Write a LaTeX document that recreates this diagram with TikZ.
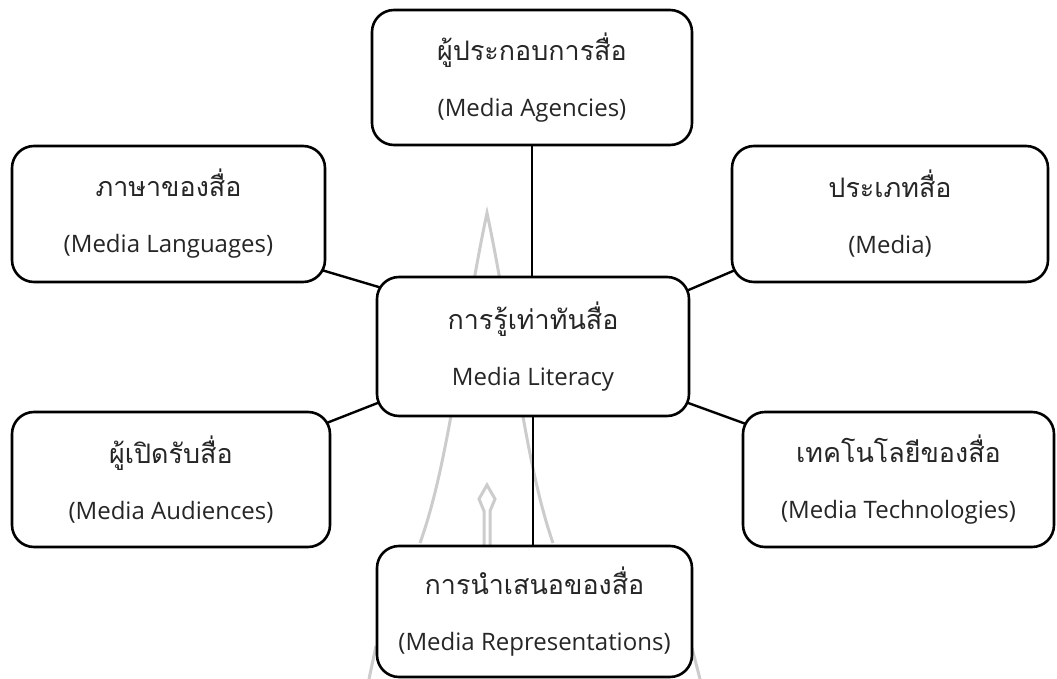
\documentclass[tikz,border=0pt]{standalone}
\usepackage{fontspec}
\setmainfont{Open Sans}
\newfontfamily\thaifont[Script=Thai,Scale=1.12]{Loma}
\usetikzlibrary{backgrounds}
\pgfdeclarelayer{bottom}
\pgfsetlayers{bottom,background,main}
\begin{document}
\begin{tikzpicture}[x=1pt,y=-1pt,
  box/.style={draw, line width=2.6pt, rounded corners=22pt, fill=white, align=center,
    inner sep=0pt, font=\fontsize{24}{56}\selectfont, text=black!85},
  link/.style={line width=2.4pt, shorten <=-6pt, shorten >=-6pt},
  wm/.style={draw=black!20, line width=3pt}]
\begin{pgfonlayer}{bottom}
  \fill[white] (0,0) rectangle (1057,679);
\end{pgfonlayer}
\useasboundingbox (0,0) rectangle (1057,679);

\node[box, minimum width=320pt, minimum height=135pt] (top) at (532,77.5)
  {{\thaifont ผู้ประกอบการสื่อ}\\(Media Agencies)};
\node[box, minimum width=313pt, minimum height=136pt] (lang) at (168.5,214)
  {{\thaifont ภาษาของสื่อ}\\(Media Languages)};
\node[box, minimum width=316pt, minimum height=136pt] (media) at (890,214)
  {{\thaifont ประเภทสื่อ}\\(Media)};
\node[box, minimum width=312pt, minimum height=139pt] (ctr) at (533,346.5)
  {{\thaifont การรู้เท่าทันสื่อ}\\Media Literacy};
\node[box, minimum width=318pt, minimum height=135pt] (aud) at (171,479.5)
  {{\thaifont ผู้เปิดรับสื่อ}\\(Media Audiences)};
\node[box, minimum width=311pt, minimum height=135pt] (tech) at (898.5,479.5)
  {{\thaifont เทคโนโลยีของสื่อ}\\(Media Technologies)};
\node[box, minimum width=315pt, minimum height=131pt] (rep) at (534.5,611.5)
  {{\thaifont การนำเสนอของสื่อ}\\(Media Representations)};

\begin{scope}[on background layer]
  % watermark
  \draw[wm] (420,543) .. controls (450,460) and (462,330) .. (487,213)
            .. controls (512,330) and (524,460) .. (553,543);
  \draw[wm] (484,546) -- (484,511) -- (479,499) -- (487,485) -- (495,499) -- (490,511) -- (490,546);
  \draw[wm] (376,646) -- (369,679);
  \draw[wm] (692,648) -- (700,679);
  % connectors
  \draw[link] (top.south) -- (top.south |- ctr.north);
  \draw[link] (ctr.south) -- (ctr.south |- rep.north);
  \draw[link] (lang.-20) -- (ctr.159.5);
  \draw[link] (media.200.5) -- (ctr.20.5);
  \draw[link] (aud.20) -- (ctr.200.5);
  \draw[link] (tech.160) -- (ctr.-20);
\end{scope}
\end{tikzpicture}
\end{document}
